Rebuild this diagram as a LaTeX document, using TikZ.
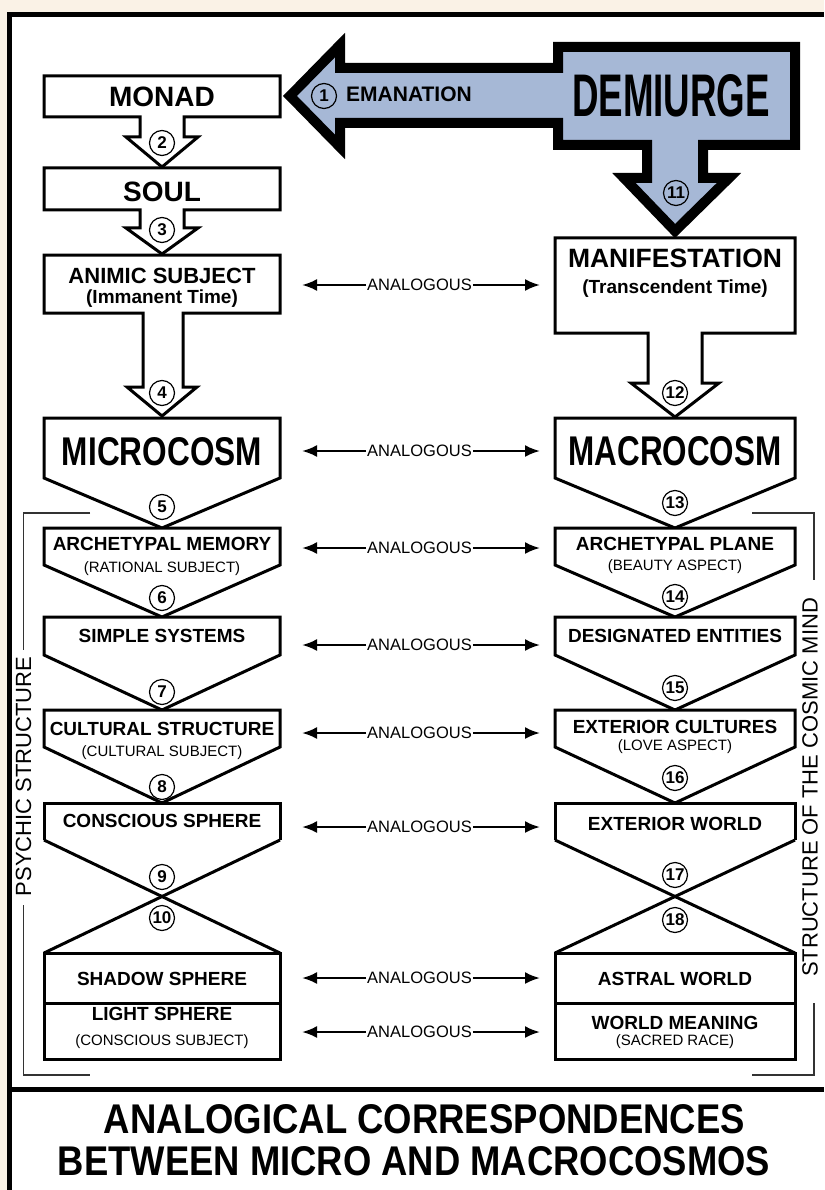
\documentclass[tikz,border=0pt]{standalone}
\usepackage{fontspec}
\setmainfont{Liberation Sans}
\usepackage{graphicx}
\usetikzlibrary{arrows.meta}
\definecolor{demblue}{RGB}{166,184,214}
\definecolor{cream}{RGB}{250,242,230}

\begin{document}
\begin{tikzpicture}[x=1pt, y=-1pt,
  stage/.style={draw=black, line width=3pt, fill=white},
  numc/.style={circle, draw=black, line width=1.2pt, fill=white, minimum size=25pt, inner sep=0pt, font=\fontsize{17}{17}\selectfont\bfseries},
  big/.style={anchor=base, inner sep=0pt, font=\fontsize{28}{28}\selectfont\bfseries},
  ttl/.style={anchor=base, inner sep=0pt, font=\fontsize{19}{19}\selectfont\bfseries},
  sub/.style={anchor=base, inner sep=0pt, font=\fontsize{15}{15}\selectfont},
  analog/.style={inner sep=1pt, font=\fontsize{16.5}{16.5}\selectfont},
  ana/.style={line width=2.4pt, -{Latex[length=15pt,width=12pt]}},
  brk/.style={line width=1.3pt, draw=black!80},
  side/.style={rotate=90, inner sep=0pt, font=\fontsize{22}{22}\selectfont}]
\useasboundingbox (0,0) rectangle (824,1190);
% frame
\fill[cream] (0,0) rectangle (824,1190);
\fill[white] (9,15) rectangle (824,1190);
\draw[line width=5pt] (9.5,1190) -- (9.5,15) -- (824,15);
\draw[line width=5pt] (9.5,1089) -- (824,1089);

% demiurge arrow
\draw[fill=demblue, line width=10pt, line join=miter] (290,96) -- (340,45) -- (340,68) -- (558,68) -- (558,47) -- (795,47) -- (795,145) -- (703,145) -- (703,178) -- (729,178) -- (675,231) -- (624,178) -- (647,178) -- (647,145) -- (558,145) -- (558,123) -- (340,123) -- (340,147) -- cycle;
\node[anchor=base, inner sep=0pt] (demiurge) at (671,117) {\resizebox{198pt}{42pt}{\bfseries DEMIURGE}};
\node[numc, fill=demblue] (n1) at (324,96) {1};
\node[anchor=base west, inner sep=0pt, font=\fontsize{21}{21}\selectfont\bfseries] (eman) at (346,102) {EMANATION};
\node[numc, fill=demblue] (n11) at (676,193) {11};

% left column
\draw[stage] (44,76) -- (280,76) -- (280,117) -- (184,117) -- (184,137) -- (198,137) -- (162,167) -- (126,137) -- (140,137) -- (140,117) -- (44,117) -- cycle;
\node[big] (monad) at (162,107) {MONAD};
\draw[stage] (44,168) -- (280,168) -- (280,210) -- (184,210) -- (184,228) -- (198,228) -- (162,254) -- (126,228) -- (140,228) -- (140,210) -- (44,210) -- cycle;
\node[big] (soul) at (162,202) {SOUL};
\draw[stage] (44,255) -- (280,255) -- (280,313) -- (183,313) -- (183,387) -- (197,387) -- (162,416) -- (127,387) -- (143,387) -- (143,313) -- (44,313) -- cycle;
\node[anchor=base, inner sep=0pt, font=\fontsize{22}{22}\selectfont\bfseries] (animic) at (162,283) {ANIMIC SUBJECT};
\node[ttl] (animicsub) at (162,303) {(Immanent Time)};
\draw[stage] (44,418) -- (280,418) -- (280,478) -- (162,528) -- (44,478) -- cycle;
\node[anchor=base, inner sep=0pt] (micro) at (162,465) {\resizebox{200pt}{28pt}{\bfseries MICROCOSM}};
\draw[stage] (44,528) -- (280,528) -- (280,565) -- (162,617) -- (44,565) -- cycle;
\node[ttl] (archmem) at (162,550) {ARCHETYPAL MEMORY};
\node[sub] (archmemsub) at (162,572) {(RATIONAL SUBJECT)};
\draw[stage] (44,617) -- (280,617) -- (280,655) -- (162,710) -- (44,655) -- cycle;
\node[ttl] (simple) at (162,642) {SIMPLE SYSTEMS};
\draw[stage] (44,710) -- (280,710) -- (280,747) -- (162,803) -- (44,747) -- cycle;
\node[ttl] (cultural) at (162,735) {CULTURAL STRUCTURE};
\node[sub] (culturalsub) at (162,756) {(CULTURAL SUBJECT)};
\draw[stage] (44,840) -- (44,803) -- (280,803) -- (280,840);
\draw[stage] (44,840) -- (280,953);
\draw[stage] (280,840) -- (44,953);
\node[ttl] (conscious) at (162,827) {CONSCIOUS SPHERE};
\draw[stage] (44,953) rectangle (280,1059);
\draw[stage] (44,1003) -- (280,1003);
\node[ttl] (shadow) at (162,985) {SHADOW SPHERE};
\node[ttl] (light) at (162,1020) {LIGHT SPHERE};
\node[sub] (lightsub) at (162,1045) {(CONSCIOUS SUBJECT)};

% right column
\draw[stage] (555,238) -- (795,238) -- (795,333) -- (702,333) -- (702,383) -- (719,383) -- (675,417) -- (631,383) -- (648,383) -- (648,333) -- (555,333) -- cycle;
\node[anchor=base, inner sep=0pt, font=\fontsize{26.5}{26.5}\selectfont\bfseries] (manif) at (675,267) {MANIFESTATION};
\node[ttl] (manifsub) at (675,293) {(Transcendent Time)};
\draw[stage] (555,418) -- (795,418) -- (795,478) -- (675,528) -- (555,478) -- cycle;
\node[anchor=base, inner sep=0pt] (macro) at (675,465) {\resizebox{213pt}{29pt}{\bfseries MACROCOSM}};
\draw[stage] (555,528) -- (795,528) -- (795,565) -- (675,617) -- (555,565) -- cycle;
\node[ttl] (archplane) at (675,550) {ARCHETYPAL PLANE};
\node[sub] (archplanesub) at (675,570) {(BEAUTY ASPECT)};
\draw[stage] (555,617) -- (795,617) -- (795,655) -- (675,710) -- (555,655) -- cycle;
\node[ttl] (designated) at (675,642) {DESIGNATED ENTITIES};
\draw[stage] (555,710) -- (795,710) -- (795,747) -- (675,803) -- (555,747) -- cycle;
\node[ttl] (extcult) at (675,733) {EXTERIOR CULTURES};
\node[sub] (extcultsub) at (675,750) {(LOVE ASPECT)};
\draw[stage] (555,840) -- (555,803) -- (795,803) -- (795,840);
\draw[stage] (555,840) -- (795,953);
\draw[stage] (795,840) -- (555,953);
\node[ttl] (extworld) at (675,830) {EXTERIOR WORLD};
\draw[stage] (555,953) rectangle (795,1059);
\draw[stage] (555,1003) -- (795,1003);
\node[ttl] (astral) at (675,985) {ASTRAL WORLD};
\node[ttl] (meaning) at (675,1029) {WORLD MEANING};
\node[sub] (meaningsub) at (675,1045) {(SACRED RACE)};

% numbers
\node[numc] (n2) at (162,143) {2};
\node[numc] (n3) at (162,230) {3};
\node[numc] (n4) at (162,393) {4};
\node[numc] (n5) at (162,507) {5};
\node[numc] (n6) at (162,598) {6};
\node[numc] (n7) at (162,692) {7};
\node[numc] (n8) at (162,787) {8};
\node[numc] (n9) at (162,877) {9};
\node[numc] (n10) at (162,918) {10};
\node[numc] (n12) at (675,393) {12};
\node[numc] (n13) at (675,503) {13};
\node[numc] (n14) at (675,597) {14};
\node[numc] (n15) at (675,688) {15};
\node[numc] (n16) at (675,778) {16};
\node[numc] (n17) at (675,875) {17};
\node[numc] (n18) at (675,920) {18};

% analogous arrows
\coordinate (lft) at (302,0);
\coordinate (rgt) at (540,0);
\node[analog] (an1) at (419.5,285) {ANALOGOUS};
\draw[ana] (an1.west) -- (an1.west -| lft);
\draw[ana] (an1.east) -- (an1.east -| rgt);
\node[analog] (an2) at (419.5,451) {ANALOGOUS};
\draw[ana] (an2.west) -- (an2.west -| lft);
\draw[ana] (an2.east) -- (an2.east -| rgt);
\node[analog] (an3) at (419.5,548) {ANALOGOUS};
\draw[ana] (an3.west) -- (an3.west -| lft);
\draw[ana] (an3.east) -- (an3.east -| rgt);
\node[analog] (an4) at (419.5,645) {ANALOGOUS};
\draw[ana] (an4.west) -- (an4.west -| lft);
\draw[ana] (an4.east) -- (an4.east -| rgt);
\node[analog] (an5) at (419.5,733) {ANALOGOUS};
\draw[ana] (an5.west) -- (an5.west -| lft);
\draw[ana] (an5.east) -- (an5.east -| rgt);
\node[analog] (an6) at (419.5,827) {ANALOGOUS};
\draw[ana] (an6.west) -- (an6.west -| lft);
\draw[ana] (an6.east) -- (an6.east -| rgt);
\node[analog] (an7) at (419.5,978) {ANALOGOUS};
\draw[ana] (an7.west) -- (an7.west -| lft);
\draw[ana] (an7.east) -- (an7.east -| rgt);
\node[analog] (an8) at (419.5,1032) {ANALOGOUS};
\draw[ana] (an8.west) -- (an8.west -| lft);
\draw[ana] (an8.east) -- (an8.east -| rgt);

% side brackets
\node[side] (psych) at (23.5,776.5) {PSYCHIC STRUCTURE};
\draw[brk] (90,513) -- (23.5,513) -- (23.5,650);
\draw[brk] (23.5,905) -- (23.5,1075) -- (90,1075);
\node[side] (cosmic) at (810,787.5) {STRUCTURE OF THE COSMIC MIND};
\draw[brk] (752,513) -- (814,513) -- (814,580);
\draw[brk] (814,1003) -- (814,1075) -- (752,1075);

% title
\node[anchor=base, inner sep=0pt] (title1) at (424.5,1133) {\resizebox{641pt}{29pt}{\bfseries ANALOGICAL CORRESPONDENCES}};
\node[anchor=base, inner sep=0pt] (title2) at (414,1175) {\resizebox{712pt}{29pt}{\bfseries BETWEEN MICRO AND MACROCOSMOS}};
\end{tikzpicture}
\end{document}
